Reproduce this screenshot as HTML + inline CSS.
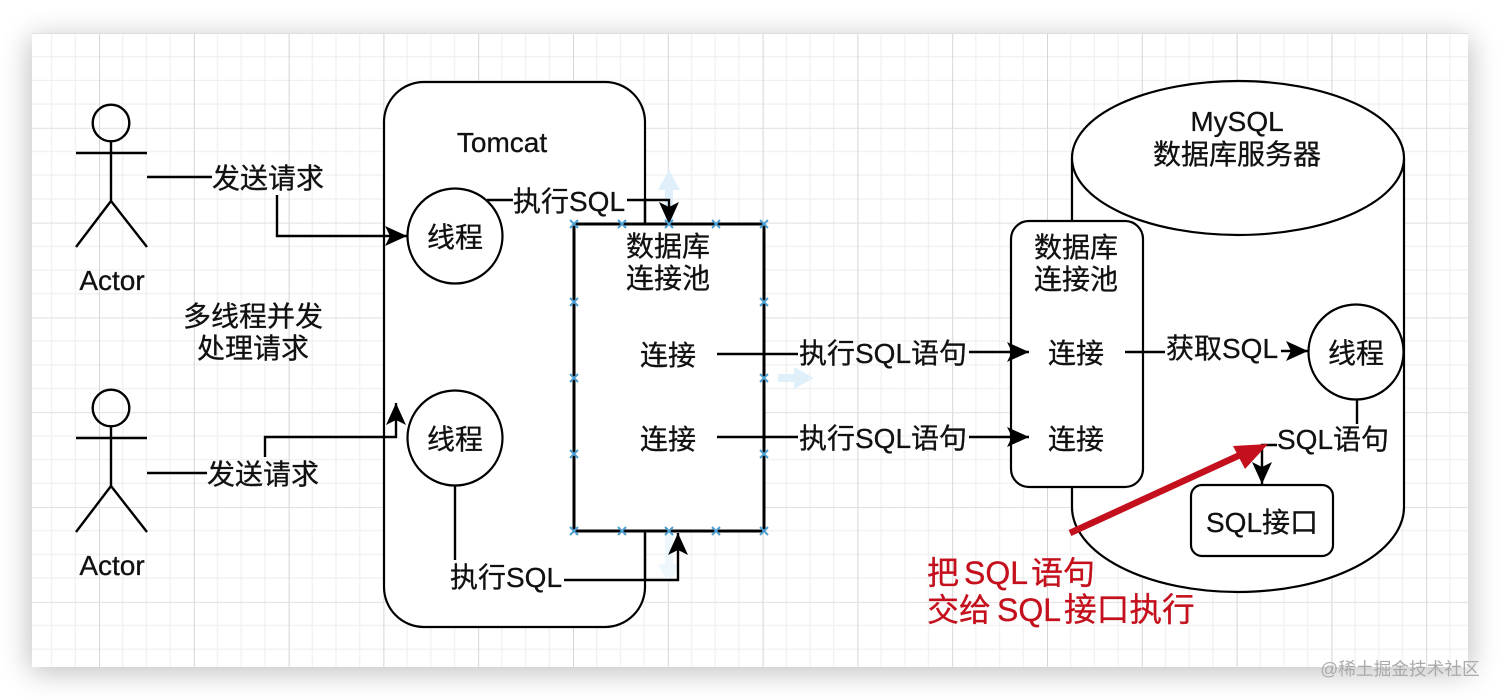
<!DOCTYPE html>
<html><head><meta charset="utf-8"><style>
html,body{margin:0;padding:0;background:#fff;width:1500px;height:700px;overflow:hidden}
svg{display:block;filter:blur(.35px)}
text{font-family:"Liberation Sans","Noto Sans CJK SC",sans-serif;font-size:28px;fill:#111;stroke:#111;stroke-width:.3px;text-anchor:middle}
text.r{fill:#c4101c;stroke:#c4101c;text-anchor:start;font-size:32px}
</style></head><body>
<svg width="1500" height="700" viewBox="0 0 1500 700" xmlns="http://www.w3.org/2000/svg">
<defs>
<filter id="sh" x="-5%" y="-10%" width="110%" height="120%"><feGaussianBlur stdDeviation="15"/></filter>
<pattern id="g" x="4.2" y="33" width="94.8" height="94.8" patternUnits="userSpaceOnUse">
<path d="M23.7 0V94.8M47.4 0V94.8M71.1 0V94.8M0 23.7H94.8M0 47.4H94.8M0 71.1H94.8" stroke="#f0f0f0" stroke-width="1.2" fill="none"/>
<path d="M0.5 0V94.8" stroke="#d6d6d6" stroke-width="1" fill="none"/>
<path d="M0 0.5H94.8" stroke="#e0e0e0" stroke-width="1" fill="none"/>
</pattern>
<marker id="a" markerUnits="userSpaceOnUse" markerWidth="24" markerHeight="24" refX="22" refY="12" orient="auto"><path d="M0 2L22 12L0 22L5 12Z" fill="#000"/></marker>
</defs>
<rect x="30" y="38" width="1440" height="634" fill="#000" opacity=".26" filter="url(#sh)"/>
<rect x="32" y="33" width="1436" height="634" fill="#fff"/>
<rect x="32" y="33" width="1436" height="634" fill="url(#g)"/>

<!-- light guides -->
<g fill="#dff0fa"><path d="M669 170L680 190H673V222H665V190H658Z"/><path d="M814 378L794 367V374H778V382H794V389Z"/></g>
<path d="M669 584L680 564H673V533H665V564H658Z" fill="#eef7fc"/>

<g fill="#fff" stroke="#000" stroke-width="2.2">
<!-- Tomcat -->
<rect x="384" y="82" width="261" height="545" rx="40" ry="40"/>
<!-- MySQL cylinder -->
<path d="M1072 158V507A166 85 0 0 0 1404 507V158"/>
<ellipse cx="1238" cy="158" rx="166" ry="77"/>
<!-- inner boxes -->
<rect x="1011" y="221" width="132" height="266" rx="18" ry="18"/>
<rect x="1191" y="485" width="142" height="71" rx="11" ry="11"/>
<circle cx="455" cy="236" r="47.5"/>
<circle cx="455" cy="438" r="47.5"/>
<circle cx="1356" cy="352" r="47.5"/>
</g>
<rect x="574" y="224" width="190" height="307" fill="#fff" stroke="#000" stroke-width="3"/>

<!-- actors -->
<g fill="none" stroke="#000" stroke-width="2.4">
<circle cx="111" cy="123" r="18.3"/><path d="M111 141V201M76 153H147M76 247L111 201L147 247"/>
<circle cx="111" cy="408" r="18.3"/><path d="M111 426V486M76 438H147M76 532L111 486L147 532"/>
</g>

<!-- connectors -->
<g fill="none" stroke="#000" stroke-width="2.4">
<path d="M147 177H212"/>
<path d="M277 195V236H407" marker-end="url(#a)"/>
<path d="M147 473H207"/>
<path d="M265 457V437H396V403" marker-end="url(#a)"/>
<path d="M487 200H513"/>
<path d="M627 200H669V224" marker-end="url(#a)"/>
<path d="M645 200V224"/>
<path d="M455 486V560"/>
<path d="M564 580H678V533" marker-end="url(#a)"/>
<path d="M645 533V580"/>
<path d="M717 354H798"/>
<path d="M969 352H1029" marker-end="url(#a)"/>
<path d="M717 437H798"/>
<path d="M969 437H1029" marker-end="url(#a)"/>
<path d="M1125 352H1165"/>
<path d="M1281 351H1308" marker-end="url(#a)"/>
<path d="M1357 400V424"/>
<path d="M1277 445H1262V484" marker-end="url(#a)"/>
</g>

<!-- selection handles -->
<g stroke="#4f9fd0" stroke-width="2" fill="none">
<path d="M570 220l8 8m0-8l-8 8M618 220l8 8m0-8l-8 8M665 220l8 8m0-8l-8 8M712 220l8 8m0-8l-8 8M760 220l8 8m0-8l-8 8"/>
<path d="M570 298l8 8m0-8l-8 8M760 298l8 8m0-8l-8 8M570 374l8 8m0-8l-8 8M760 374l8 8m0-8l-8 8M570 450l8 8m0-8l-8 8M760 450l8 8m0-8l-8 8"/>
<path d="M570 527l8 8m0-8l-8 8M618 527l8 8m0-8l-8 8M665 527l8 8m0-8l-8 8M712 527l8 8m0-8l-8 8M760 527l8 8m0-8l-8 8"/>
</g>

<!-- red arrow -->
<path d="M1070 533L1240 455" stroke="#c4101c" stroke-width="6.5" fill="none"/>
<path d="M1268 444L1233 446L1245 469Z" fill="#c4101c"/>

<!-- labels -->
<text x="268" y="188">发送请求</text>
<text x="263" y="484">发送请求</text>
<text x="112" y="290">Actor</text>
<text x="112" y="575">Actor</text>
<text x="253" y="326">多线程并发</text>
<text x="253" y="358">处理请求</text>
<text x="502" y="152">Tomcat</text>
<text x="455" y="247">线程</text>
<text x="455" y="449">线程</text>
<text x="569" y="211">执行SQL</text>
<text x="506" y="587">执行SQL</text>
<text x="668" y="256">数据库</text>
<text x="668" y="288">连接池</text>
<text x="668" y="365">连接</text>
<text x="668" y="449">连接</text>
<text x="883" y="363">执行SQL语句</text>
<text x="883" y="448">执行SQL语句</text>
<text x="1076" y="257">数据库</text>
<text x="1076" y="289">连接池</text>
<text x="1076" y="363">连接</text>
<text x="1076" y="449">连接</text>
<text x="1222" y="358">获取SQL</text>
<text x="1356" y="363">线程</text>
<text x="1333" y="449">SQL语句</text>
<text x="1262" y="532">SQL接口</text>
<text x="1237" y="131">MySQL</text>
<text x="1237" y="164">数据库服务器</text>
<text class="r" y="584"><tspan x="927">把</tspan><tspan x="964">SQL</tspan><tspan x="1031">语句</tspan></text>
<text class="r" y="621"><tspan x="927">交给</tspan><tspan x="997">SQL</tspan><tspan x="1064" style="font-size:32.7px">接口执行</tspan></text>
<text x="1400" y="675" style="font-size:17.7px;fill:#aaa;stroke:none">@稀土掘金技术社区</text>
</svg>
</body></html>
